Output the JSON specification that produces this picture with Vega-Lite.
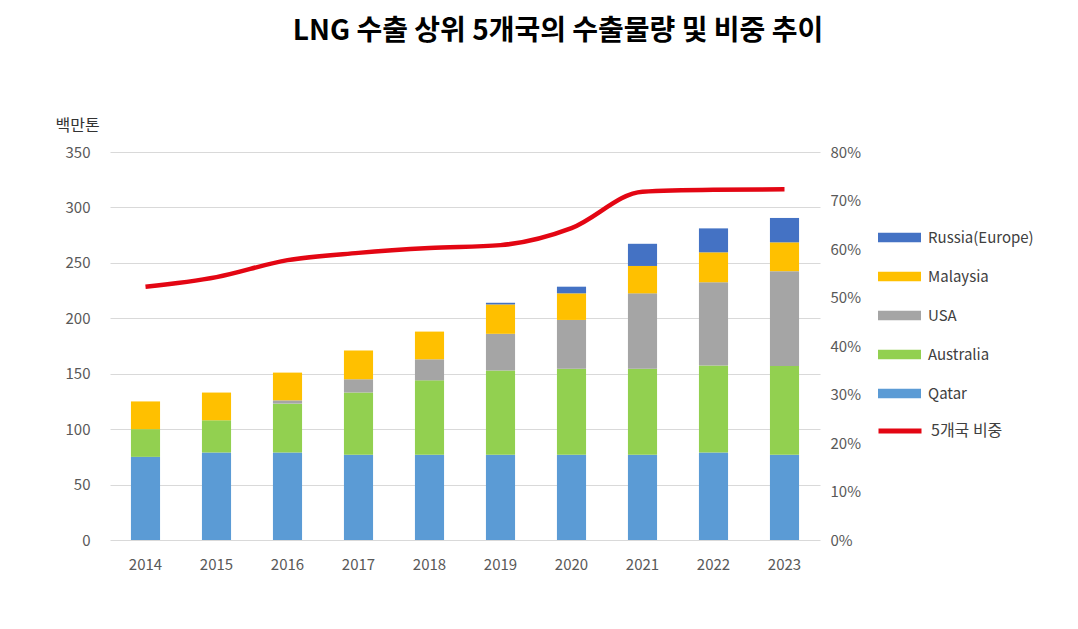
{
  "$schema": "https://vega.github.io/schema/vega-lite/v6.json",
  "width": 710,
  "height": 388,
  "autosize": {"type": "none"},
  "padding": {"left": 110, "top": 152, "right": 258, "bottom": 89},
  "background": "white",
  "config": {"font": "Noto Sans CJK KR", "view": {"stroke": null}},
  "title": {
    "text": "LNG 수출 상위 5개국의 수출물량 및 비중 추이",
    "fontSize": 28,
    "fontWeight": "bold",
    "color": "#000000",
    "anchor": "middle",
    "dx": 93,
    "offset": 71
  },
  "datasets": {
    "bars": [
      {"year": "2014", "country": "Qatar", "k": 1, "volume": 75},
      {"year": "2014", "country": "Australia", "k": 2, "volume": 25},
      {"year": "2014", "country": "Malaysia", "k": 4, "volume": 25},
      {"year": "2015", "country": "Qatar", "k": 1, "volume": 79},
      {"year": "2015", "country": "Australia", "k": 2, "volume": 29},
      {"year": "2015", "country": "Malaysia", "k": 4, "volume": 25},
      {"year": "2016", "country": "Qatar", "k": 1, "volume": 79},
      {"year": "2016", "country": "Australia", "k": 2, "volume": 44},
      {"year": "2016", "country": "USA", "k": 3, "volume": 3},
      {"year": "2016", "country": "Malaysia", "k": 4, "volume": 25},
      {"year": "2017", "country": "Qatar", "k": 1, "volume": 77},
      {"year": "2017", "country": "Australia", "k": 2, "volume": 56},
      {"year": "2017", "country": "USA", "k": 3, "volume": 12},
      {"year": "2017", "country": "Malaysia", "k": 4, "volume": 26},
      {"year": "2018", "country": "Qatar", "k": 1, "volume": 77},
      {"year": "2018", "country": "Australia", "k": 2, "volume": 67},
      {"year": "2018", "country": "USA", "k": 3, "volume": 19},
      {"year": "2018", "country": "Malaysia", "k": 4, "volume": 25},
      {"year": "2019", "country": "Qatar", "k": 1, "volume": 77},
      {"year": "2019", "country": "Australia", "k": 2, "volume": 76},
      {"year": "2019", "country": "USA", "k": 3, "volume": 33},
      {"year": "2019", "country": "Malaysia", "k": 4, "volume": 26.5},
      {"year": "2019", "country": "Russia(Europe)", "k": 5, "volume": 1.5},
      {"year": "2020", "country": "Qatar", "k": 1, "volume": 77},
      {"year": "2020", "country": "Australia", "k": 2, "volume": 77.5},
      {"year": "2020", "country": "USA", "k": 3, "volume": 44},
      {"year": "2020", "country": "Malaysia", "k": 4, "volume": 24},
      {"year": "2020", "country": "Russia(Europe)", "k": 5, "volume": 6},
      {"year": "2021", "country": "Qatar", "k": 1, "volume": 77},
      {"year": "2021", "country": "Australia", "k": 2, "volume": 77.5},
      {"year": "2021", "country": "USA", "k": 3, "volume": 68},
      {"year": "2021", "country": "Malaysia", "k": 4, "volume": 24.7},
      {"year": "2021", "country": "Russia(Europe)", "k": 5, "volume": 20},
      {"year": "2022", "country": "Qatar", "k": 1, "volume": 79},
      {"year": "2022", "country": "Australia", "k": 2, "volume": 78.5},
      {"year": "2022", "country": "USA", "k": 3, "volume": 75},
      {"year": "2022", "country": "Malaysia", "k": 4, "volume": 27},
      {"year": "2022", "country": "Russia(Europe)", "k": 5, "volume": 21.6},
      {"year": "2023", "country": "Qatar", "k": 1, "volume": 77},
      {"year": "2023", "country": "Australia", "k": 2, "volume": 80},
      {"year": "2023", "country": "USA", "k": 3, "volume": 85.5},
      {"year": "2023", "country": "Malaysia", "k": 4, "volume": 26},
      {"year": "2023", "country": "Russia(Europe)", "k": 5, "volume": 22}
    ],
    "share": [
      {"year": "2014", "series": "5개국 비중", "share": 0.522},
      {"year": "2015", "series": "5개국 비중", "share": 0.542},
      {"year": "2016", "series": "5개국 비중", "share": 0.577},
      {"year": "2017", "series": "5개국 비중", "share": 0.592},
      {"year": "2018", "series": "5개국 비중", "share": 0.602},
      {"year": "2019", "series": "5개국 비중", "share": 0.608},
      {"year": "2020", "series": "5개국 비중", "share": 0.643},
      {"year": "2021", "series": "5개국 비중", "share": 0.718},
      {"year": "2022", "series": "5개국 비중", "share": 0.722},
      {"year": "2023", "series": "5개국 비중", "share": 0.723}
    ]
  },
  "layer": [
    {
      "data": {"name": "bars"},
      "mark": {"type": "bar"},
      "encoding": {
        "x": {
          "field": "year",
          "type": "ordinal",
          "scale": {"paddingInner": 0.59, "paddingOuter": 0.295},
          "axis": {
            "title": null,
            "labelAngle": 0,
            "domain": false,
            "ticks": false,
            "labelPadding": 17,
            "labelFontSize": 15,
            "labelColor": "#595959",
            "grid": false
          }
        },
        "y": {
          "field": "volume",
          "type": "quantitative",
          "stack": "zero",
          "scale": {"domain": [0, 350], "nice": false},
          "axis": {
            "title": "백만톤",
            "titleAngle": 0,
            "titleAlign": "left",
            "titleBaseline": "middle",
            "titleX": -55,
            "titleY": -27,
            "titleFontSize": 16,
            "titleFontWeight": "normal",
            "titleColor": "#333333",
            "values": [0, 50, 100, 150, 200, 250, 300, 350],
            "domain": false,
            "ticks": false,
            "labelPadding": 20,
            "labelFontSize": 15,
            "labelColor": "#595959",
            "grid": true,
            "gridColor": "#D9D9D9",
            "gridWidth": 1
          }
        },
        "color": {
          "field": "country",
          "type": "nominal",
          "scale": {
            "domain": ["Russia(Europe)", "Malaysia", "USA", "Australia", "Qatar"],
            "range": ["#4472C4", "#FFC000", "#A5A5A5", "#92D050", "#5B9BD5"]
          },
          "legend": {
            "title": null,
            "orient": "none",
            "legendX": 768,
            "legendY": 64,
            "direction": "vertical",
            "symbolType": "M-1,-0.22H1V0.22H-1Z",
            "symbolSize": 1849,
            "symbolStrokeWidth": 0,
            "labelFontSize": 15,
            "labelColor": "#404040",
            "labelOffset": 7,
            "rowPadding": 9
          }
        },
        "order": {"field": "k", "type": "quantitative"}
      }
    },
    {
      "data": {"name": "share"},
      "mark": {"type": "line", "interpolate": "monotone", "strokeWidth": 4.5},
      "encoding": {
        "x": {"field": "year", "type": "ordinal"},
        "y": {
          "field": "share",
          "type": "quantitative",
          "scale": {"domain": [0, 0.8], "nice": false},
          "axis": {
            "orient": "right",
            "title": null,
            "format": ".0%",
            "values": [0, 0.1, 0.2, 0.3, 0.4, 0.5, 0.6, 0.7, 0.8],
            "domain": false,
            "ticks": false,
            "grid": false,
            "labelPadding": 10,
            "labelFontSize": 15,
            "labelColor": "#595959"
          }
        },
        "stroke": {
          "field": "series",
          "type": "nominal",
          "scale": {"range": ["#E30613"]},
          "legend": {
            "title": null,
            "orient": "none",
            "legendX": 766,
            "legendY": 255,
            "symbolType": "stroke",
            "symbolSize": 1849,
            "symbolStrokeWidth": 5,
            "labelFontSize": 16,
            "labelColor": "#404040",
            "labelOffset": 7
          }
        }
      }
    }
  ],
  "resolve": {"scale": {"y": "independent"}}
}
